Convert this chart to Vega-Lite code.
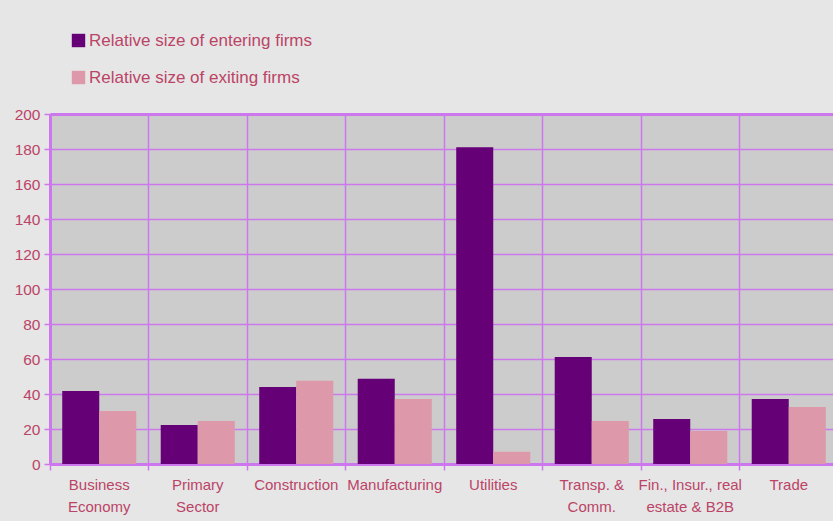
{
  "$schema": "https://vega.github.io/schema/vega-lite/v6.json",
  "autosize": "none",
  "padding": {"left": 50, "top": 114, "right": 0, "bottom": 57},
  "width": 788,
  "height": 350,
  "background": "#e6e6e6",
  "data": {
    "values": [
      {"sector": "Business Economy", "series": "Relative size of entering firms", "value": 41.7},
      {"sector": "Business Economy", "series": "Relative size of exiting firms", "value": 30.3},
      {"sector": "Primary Sector", "series": "Relative size of entering firms", "value": 22.3},
      {"sector": "Primary Sector", "series": "Relative size of exiting firms", "value": 24.6},
      {"sector": "Construction", "series": "Relative size of entering firms", "value": 44.0},
      {"sector": "Construction", "series": "Relative size of exiting firms", "value": 47.6},
      {"sector": "Manufacturing", "series": "Relative size of entering firms", "value": 48.7},
      {"sector": "Manufacturing", "series": "Relative size of exiting firms", "value": 37.1},
      {"sector": "Utilities", "series": "Relative size of entering firms", "value": 181.0},
      {"sector": "Utilities", "series": "Relative size of exiting firms", "value": 7.0},
      {"sector": "Transp. & Comm.", "series": "Relative size of entering firms", "value": 61.1},
      {"sector": "Transp. & Comm.", "series": "Relative size of exiting firms", "value": 24.6},
      {"sector": "Fin., Insur., real estate & B2B", "series": "Relative size of entering firms", "value": 25.7},
      {"sector": "Fin., Insur., real estate & B2B", "series": "Relative size of exiting firms", "value": 18.9},
      {"sector": "Trade", "series": "Relative size of entering firms", "value": 37.1},
      {"sector": "Trade", "series": "Relative size of exiting firms", "value": 32.6}
    ]
  },
  "mark": {"type": "bar"},
  "encoding": {
    "x": {
      "field": "sector",
      "type": "nominal",
      "sort": null,
      "scale": {"paddingInner": 0, "paddingOuter": 0},
      "axis": {
        "title": null,
        "labelAngle": 0,
        "bandPosition": 0,
        "grid": true,
        "gridColor": "#cc77ee",
        "gridWidth": 1.5,
        "gridOpacity": 1,
        "domain": true,
        "domainColor": "#cc77ee",
        "domainWidth": 3,
        "ticks": true,
        "tickColor": "#cc77ee",
        "tickWidth": 1.5,
        "tickSize": 6,
        "labelColor": "#bb4466",
        "labelFont": "Liberation Sans",
        "labelFontSize": 15,
        "labelPadding": 7,
        "labelLineHeight": 22,
        "labelBaseline": "top",
        "labelLimit": 0,
        "labelExpr": "datum.label == 'Business Economy' ? ['Business', 'Economy'] : datum.label == 'Primary Sector' ? ['Primary', 'Sector'] : datum.label == 'Transp. & Comm.' ? ['Transp. &', 'Comm.'] : datum.label == 'Fin., Insur., real estate & B2B' ? ['Fin., Insur., real', 'estate & B2B'] : datum.label"
      }
    },
    "xOffset": {
      "field": "series",
      "type": "nominal",
      "scale": {"paddingInner": 0, "paddingOuter": 0.33}
    },
    "y": {
      "field": "value",
      "type": "quantitative",
      "scale": {"domain": [0, 200], "nice": false},
      "axis": {
        "title": null,
        "values": [0, 20, 40, 60, 80, 100, 120, 140, 160, 180, 200],
        "grid": true,
        "gridColor": "#cc77ee",
        "gridWidth": {"condition": {"test": "datum.value == 200", "value": 3}, "value": 1.5},
        "gridOpacity": 1,
        "domain": true,
        "domainColor": "#cc77ee",
        "domainWidth": 3,
        "tickColor": "#cc77ee",
        "tickSize": 6,
        "tickWidth": 1.5,
        "labelColor": "#bb4466",
        "labelFont": "Liberation Sans",
        "labelFontSize": 15.5,
        "labelPadding": 4
      }
    },
    "color": {
      "field": "series",
      "type": "nominal",
      "scale": {
        "domain": ["Relative size of entering firms", "Relative size of exiting firms"],
        "range": ["#660077", "#dd99aa"]
      },
      "legend": {
        "title": null,
        "orient": "none",
        "legendX": 20,
        "legendY": -82,
        "direction": "vertical",
        "symbolType": "square",
        "symbolSize": 180,
        "symbolStrokeWidth": 0,
        "symbolOpacity": 1,
        "labelColor": "#bb4466",
        "labelFont": "Liberation Sans",
        "labelFontSize": 17,
        "labelOffset": 2,
        "labelLimit": 0,
        "rowPadding": 19
      }
    }
  },
  "config": {
    "view": {"fill": "#cccccc", "stroke": null},
    "axisX": {"zindex": 0},
    "axisY": {"zindex": 0}
  }
}
